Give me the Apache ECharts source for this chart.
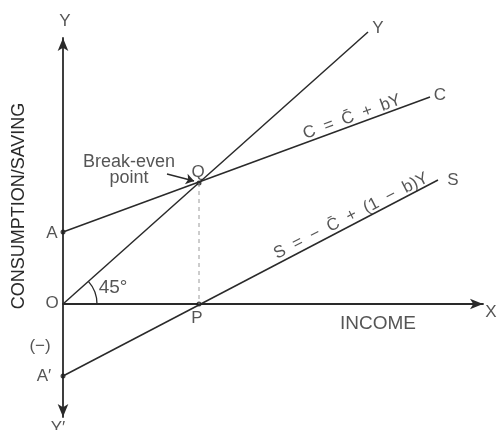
<!DOCTYPE html>
<html>
<head>
<meta charset="utf-8">
<script src="https://cdn.jsdelivr.net/npm/echarts@6/dist/echarts.min.js"></script>
<style>
    html,body{margin:0;padding:0;background:#fff;}
    #chart{width:499px;height:430px;}
</style>
</head>
<body>
<div id="chart"></div>
<script>
// lines of the diagram (income on x, consumption/saving on y)
var incomeLine = [[0, 0], [305, 272]];      // 45 degree line  Y
var consumption = [[0, 72], [367, 207]];    // C = C + bY
var saving = [[0, -72], [375, 124]];        // S = -C + (1-b)Y
var pointA = [0, 72];
var pointA2 = [0, -72];
var pointP = [136, 0];
var pointQ = [136, 121];
var pointerFrom = [104, 130];
var pointerTo = [131, 123];

// text on the diagram: [text, x, y]
var labels = [
    ['Y', 2, 283],
    ['Y\u2032', -5, -124],
    ['X', 428, -8],
    ['O', -11, 1],
    ['A', -11, 71],
    ['A\u2032', -19, -72],
    ['(\u2212)', -23, -42],
    ['45\u00b0', 50, 16],
    ['P', 134, -14],
    ['Q', 135, 132],
    ['INCOME', 315, -20],
    ['Break-even\npoint', 66, 134],
    ['Y', 315, 276],
    ['C', 377, 209],
    ['S', 390, 124]
];
var equations = [
    ['C  =  C\u0304  +  bY', 289, 187, 20],
    ['S  =  \u2212  C\u0304  +  (1  \u2212  b)Y', 288, 88, 27]
];

var ink = '#2a2a2a';
var font = '"Liberation Sans", Arial, sans-serif';

var myChart = echarts.init(document.getElementById('chart'));

var labelData = [];
for (var i = 0; i < labels.length; i++) {
    labelData.push({name: labels[i][0], value: [labels[i][1], labels[i][2]]});
}
// a few labels are set bigger in the print
labelData[7].label = {fontSize: 19};
labelData[10].label = {fontSize: 19};
labelData[11].label = {fontSize: 18, lineHeight: 16};
for (var j = 0; j < equations.length; j++) {
    labelData.push({
        name: equations[j][0],
        value: [equations[j][1], equations[j][2]],
        label: {rotate: equations[j][3], fontSize: 17}
    });
}

function lineSeries(name, data) {
    return {
        name: name,
        type: 'line',
        data: data,
        symbol: 'none',
        clip: false,
        silent: true,
        lineStyle: {color: ink, width: 1.5}
    };
}

option = {
    animation: false,
    grid: {left: 63, right: 16, top: 38, bottom: 13},
    xAxis: {
        type: 'value',
        min: 0,
        max: 420,
        axisLine: {
            show: true,
            symbol: ['none', 'arrow'],
            symbolSize: [8, 13],
            lineStyle: {color: ink, width: 1.8}
        },
        axisTick: {show: false},
        axisLabel: {show: false},
        splitLine: {show: false}
    },
    yAxis: {
        type: 'value',
        min: -113,
        max: 266,
        axisLine: {
            show: true,
            symbol: ['arrow', 'arrow'],
            symbolSize: [8, 13],
            lineStyle: {color: ink, width: 1.8}
        },
        axisTick: {show: false},
        axisLabel: {show: false},
        splitLine: {show: false}
    },
    series: [
        lineSeries('Y', incomeLine),
        lineSeries('C', consumption),
        lineSeries('S', saving),
        {
            name: 'QP',
            type: 'line',
            data: [pointQ, pointP],
            symbol: 'none',
            silent: true,
            lineStyle: {color: '#9a9a9a', width: 1, type: [4, 4]}
        },
        {
            name: 'points',
            type: 'scatter',
            data: [pointA, pointA2, pointP, pointQ],
            symbolSize: 5,
            silent: true,
            itemStyle: {color: '#1a1a1a'}
        },
        {
            name: 'labels',
            type: 'scatter',
            data: labelData,
            symbolSize: 0,
            clip: false,
            silent: true,
            label: {
                show: true,
                position: 'inside',
                formatter: '{b}',
                color: ink,
                fontFamily: font,
                fontSize: 17,
                lineHeight: 17
            },
            markLine: {
                silent: true,
                symbol: ['none', 'arrow'],
                symbolSize: 8,
                label: {show: false},
                lineStyle: {color: ink, width: 1.3, type: 'solid'},
                data: [[{coord: pointerFrom}, {coord: pointerTo}]]
            }
        }
    ]
};

myChart.setOption(option);

// 45 degree arc at the origin and the vertical axis title
var o = myChart.convertToPixel({gridIndex: 0}, incomeLine[0]);
var e = myChart.convertToPixel({gridIndex: 0}, incomeLine[1]);
var ang = Math.atan2(o[1] - e[1], e[0] - o[0]);
myChart.setOption({
    graphic: [
        {
            type: 'arc',
            shape: {cx: o[0], cy: o[1], r: 34, startAngle: -ang, endAngle: 0},
            style: {stroke: ink, fill: null, lineWidth: 1.3},
            silent: true
        },
        {
            type: 'text',
            x: 19,
            y: 206,
            rotation: Math.PI / 2,
            style: {
                text: 'CONSUMPTION/SAVING',
                fill: ink,
                font: '18px ' + font,
                align: 'center',
                verticalAlign: 'middle'
            },
            silent: true
        }
    ]
});
</script>
</body>
</html>
